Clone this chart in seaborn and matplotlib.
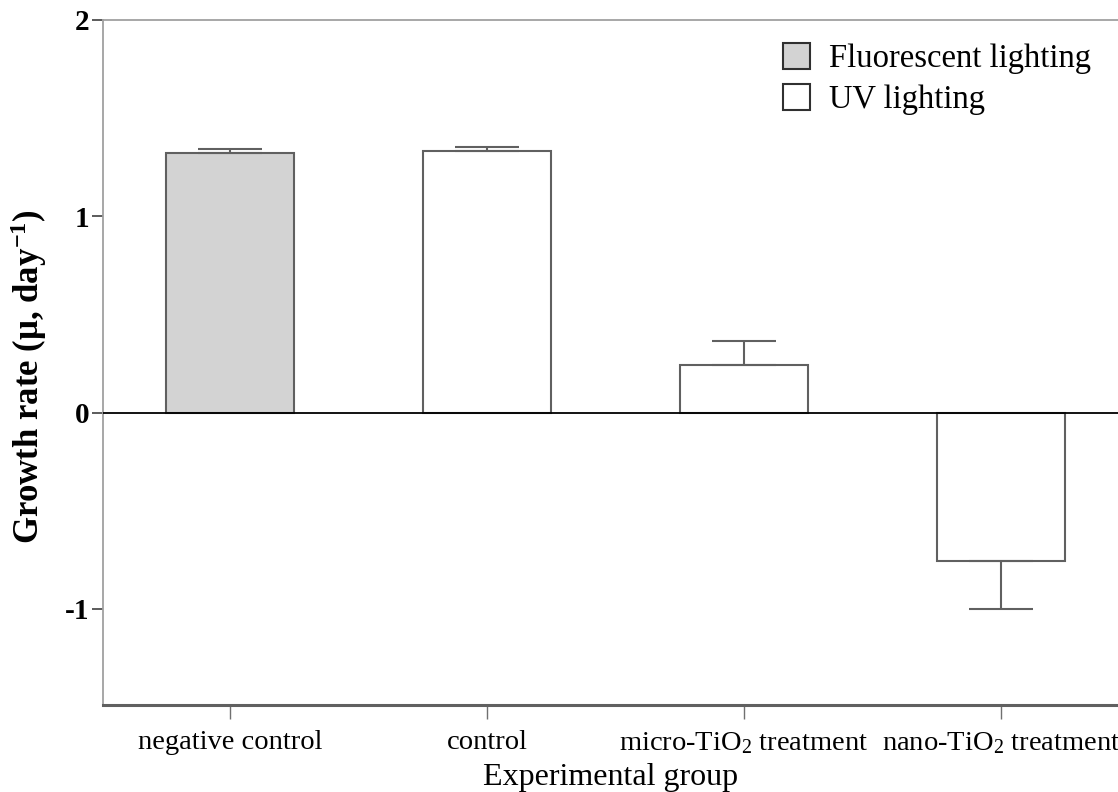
import matplotlib
matplotlib.use("Agg")
import matplotlib.pyplot as plt
import seaborn as sns
import pandas as pd
import numpy as np

groups = ["negative control", "control", "micro-TiO$_2$ treatment", "nano-TiO$_2$ treatment"]
values = [1.321, 1.333, 0.243, -0.755]
errors = [0.02, 0.021, 0.124, 0.247]
lighting = ["Fluorescent lighting", "UV lighting", "UV lighting", "UV lighting"]
yticks = [-1, 0, 1, 2]

sns.set_theme(style="ticks")
plt.rcParams["font.family"] = ["Liberation Serif", "DejaVu Serif"]
plt.rcParams["mathtext.fontset"] = "custom"
plt.rcParams["mathtext.rm"] = "Liberation Serif"
plt.rcParams["mathtext.it"] = "Liberation Serif:italic"
plt.rcParams["mathtext.bf"] = "Liberation Serif:bold"
plt.rcParams["text.color"] = "black"
plt.rcParams["axes.labelcolor"] = "black"
plt.rcParams["xtick.labelcolor"] = "black"
plt.rcParams["ytick.labelcolor"] = "black"

df = pd.DataFrame({"group": groups, "value": values, "light": lighting})

fig = plt.figure(figsize=(11.18, 7.92), dpi=100)
ax = fig.add_axes([103/1118, 1-705/792, 1-103/1118, (705-20)/792])

sns.barplot(data=df, x="group", y="value", hue="light",
            palette={"Fluorescent lighting": "#d3d3d3", "UV lighting": "white"},
            dodge=False, width=0.5, edgecolor="#606060", linewidth=1.5,
            errorbar=None, ax=ax, legend=True)

lower = [e if v < 0 else 0 for v, e in zip(values, errors)]
upper = [e if v >= 0 else 0 for v, e in zip(values, errors)]
ax.errorbar(np.arange(len(groups)), values, yerr=[lower, upper], fmt="none",
            ecolor="#606060", elinewidth=1.5, capsize=23, capthick=1.5, zorder=1)

ax.axhline(0, color="black", lw=1.3, zorder=3)

ax.set_ylim(-1.49, 2)
ax.set_xlim(-0.494, 3.455)
ax.set_yticks(yticks)
ax.set_yticklabels([str(t) for t in yticks], fontsize=21, fontweight="bold")
ax.tick_params(axis="x", labelsize=20.5, length=10, color="#707070", width=1, pad=8)
ax.tick_params(axis="y", length=8, color="#404040", width=1.2, pad=2)

ax.set_xlabel("Experimental group", fontsize=23)
ax.xaxis.set_label_coords(0.5, -0.085)
ax.set_ylabel("Growth rate (μ, day$^{\\mathbf{-1}}$)", fontsize=25, fontweight="bold")
ax.yaxis.set_label_coords(-0.053, 0.48)

for s in ["left", "top"]:
    ax.spines[s].set_color("#a0a0a0")
    ax.spines[s].set_linewidth(1.3)
ax.spines["bottom"].set_color("#606060")
ax.spines["bottom"].set_linewidth(2.2)
ax.spines["right"].set_visible(False)

leg = ax.legend(loc="upper left", bbox_to_anchor=(0.657, 0.985), frameon=False,
                fontsize=23.5, handlelength=0.83, handleheight=0.83, handletextpad=0.58,
                labelspacing=0.3, borderaxespad=0)
for h in leg.legend_handles:
    h.set_edgecolor("#303030")
    h.set_linewidth(1.5)

fig.savefig("out.png", dpi=100)
